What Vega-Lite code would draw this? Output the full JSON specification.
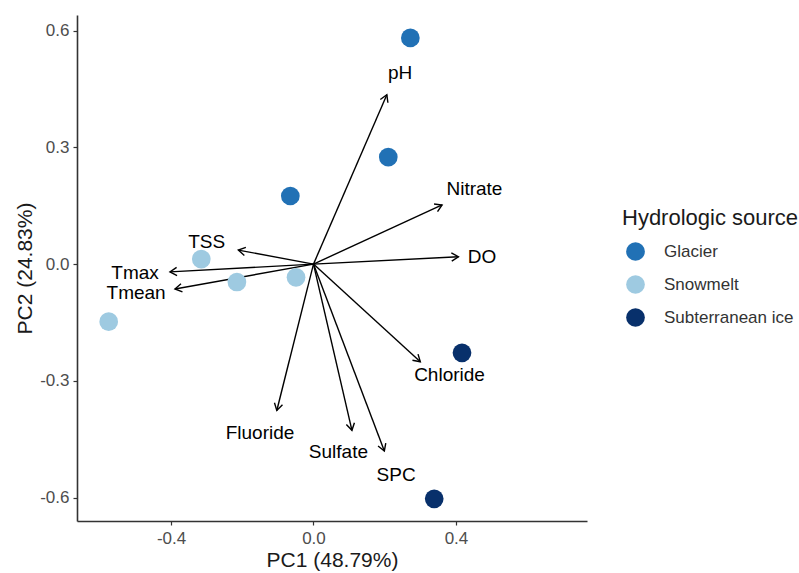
{
  "$schema": "https://vega.github.io/schema/vega-lite/v6.json",
  "width": 510,
  "height": 506,
  "autosize": {"type": "none"},
  "padding": {"left": 77, "top": 15, "right": 212, "bottom": 52},
  "background": "white",
  "config": {
    "font": "Liberation Sans",
    "view": {"stroke": null},
    "axis": {
      "grid": false,
      "domainColor": "#333333",
      "domainWidth": 1.6,
      "tickColor": "#333333",
      "tickWidth": 1.2,
      "tickSize": 4,
      "labelColor": "#4d4d4d",
      "labelFontSize": 17,
      "titleFontSize": 21,
      "titleFontWeight": "normal",
      "titleColor": "#1a1a1a"
    }
  },
  "datasets": {
    "scores": [
      {"PC1": 0.272, "PC2": 0.581, "source": "Glacier"},
      {"PC1": 0.210, "PC2": 0.275, "source": "Glacier"},
      {"PC1": -0.065, "PC2": 0.175, "source": "Glacier"},
      {"PC1": -0.315, "PC2": 0.013, "source": "Snowmelt"},
      {"PC1": -0.215, "PC2": -0.046, "source": "Snowmelt"},
      {"PC1": -0.049, "PC2": -0.034, "source": "Snowmelt"},
      {"PC1": -0.575, "PC2": -0.148, "source": "Snowmelt"},
      {"PC1": 0.417, "PC2": -0.228, "source": "Subterranean ice"},
      {"PC1": 0.339, "PC2": -0.603, "source": "Subterranean ice"}
    ],
    "loadings": [
      {"variable": "pH", "PC1": 0.206, "PC2": 0.435, "lx": 0.243, "ly": 0.492},
      {"variable": "Nitrate", "PC1": 0.361, "PC2": 0.152, "lx": 0.452, "ly": 0.193},
      {"variable": "DO", "PC1": 0.407, "PC2": 0.019, "lx": 0.473, "ly": 0.017},
      {"variable": "TSS", "PC1": -0.211, "PC2": 0.036, "lx": -0.300, "ly": 0.057},
      {"variable": "Tmax", "PC1": -0.403, "PC2": -0.020, "lx": -0.501, "ly": -0.022},
      {"variable": "Tmean", "PC1": -0.389, "PC2": -0.064, "lx": -0.498, "ly": -0.075},
      {"variable": "Chloride", "PC1": 0.300, "PC2": -0.251, "lx": 0.382, "ly": -0.284},
      {"variable": "Sulfate", "PC1": 0.108, "PC2": -0.427, "lx": 0.070, "ly": -0.483},
      {"variable": "SPC", "PC1": 0.199, "PC2": -0.480, "lx": 0.232, "ly": -0.543},
      {"variable": "Fluoride", "PC1": -0.103, "PC2": -0.376, "lx": -0.150, "ly": -0.434}
    ]
  },
  "layer": [
    {
      "data": {"name": "loadings"},
      "mark": {"type": "rule", "color": "black", "strokeWidth": 1.4},
      "encoding": {
        "x": {"field": "PC1", "type": "quantitative"},
        "y": {"field": "PC2", "type": "quantitative"},
        "x2": {"datum": 0},
        "y2": {"datum": 0}
      }
    },
    {
      "data": {"name": "loadings"},
      "transform": [
        {"calculate": "atan2(-datum.PC2 * 389.2, datum.PC1 * 356.1) * 180 / PI", "as": "ang"}
      ],
      "mark": {"type": "point", "shape": "M -1 -0.6 L 0 0 L -1 0.6", "filled": false, "stroke": "black", "strokeWidth": 1.4, "opacity": 1, "size": 190},
      "encoding": {
        "x": {"field": "PC1", "type": "quantitative"},
        "y": {"field": "PC2", "type": "quantitative"},
        "angle": {"field": "ang", "type": "quantitative", "scale": null}
      }
    },
    {
      "data": {"name": "scores"},
      "mark": {"type": "circle", "size": 350, "opacity": 1},
      "encoding": {
        "x": {
          "field": "PC1", "type": "quantitative",
          "scale": {"domain": [-0.664, 0.768], "nice": false, "zero": false},
          "axis": {"values": [-0.4, 0, 0.4], "labelExpr": "replace(format(datum.value, '.1f'), '\u2212', '-')", "title": "PC1 (48.79%)", "labelPadding": 5, "titlePadding": 3}
        },
        "y": {
          "field": "PC2", "type": "quantitative",
          "scale": {"domain": [-0.66, 0.64], "nice": false, "zero": false},
          "axis": {"values": [-0.6, -0.3, 0, 0.3, 0.6], "labelExpr": "replace(format(datum.value, '.1f'), '\u2212', '-')", "title": "PC2 (24.83%)", "labelPadding": 4, "titlePadding": 4}
        },
        "color": {
          "field": "source", "type": "nominal",
          "scale": {"domain": ["Glacier", "Snowmelt", "Subterranean ice"], "range": ["#2171b5", "#9ecae1", "#08306b"]},
          "legend": {
            "title": "Hydrologic source",
            "orient": "none",
            "legendX": 545,
            "legendY": 193,
            "titleFontSize": 22,
            "titleFontWeight": "normal",
            "titleColor": "#1a1a1a",
            "titlePadding": 12,
            "labelFontSize": 17,
            "labelColor": "#333333",
            "labelOffset": 19,
            "symbolOffset": 4,
            "symbolType": "circle",
            "symbolSize": 350,
            "symbolStrokeWidth": 0,
            "rowPadding": 14
          }
        }
      }
    },
    {
      "data": {"name": "loadings"},
      "mark": {"type": "text", "fontSize": 19, "color": "black", "align": "center", "baseline": "middle"},
      "encoding": {
        "x": {"field": "lx", "type": "quantitative"},
        "y": {"field": "ly", "type": "quantitative"},
        "text": {"field": "variable"}
      }
    }
  ]
}
